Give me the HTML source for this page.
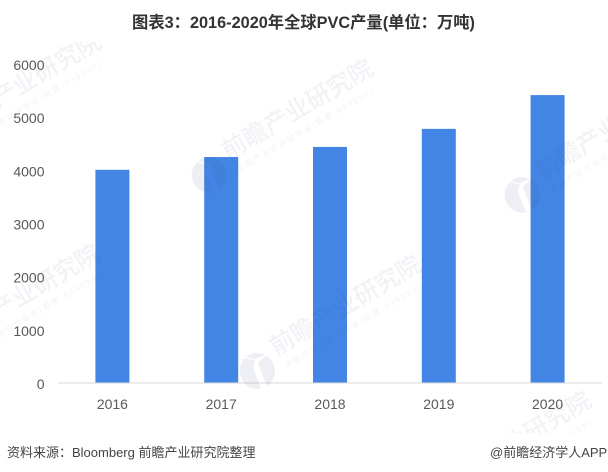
<!DOCTYPE html>
<html>
<head>
<meta charset="utf-8">
<title>2016-2020年全球PVC产量</title>
<style>
html,body{margin:0;padding:0;background:#fff;}
body{width:608px;height:472px;overflow:hidden;}
svg{display:block;}
text{font-family:"Liberation Sans","Noto Sans CJK SC",sans-serif;}
</style>
</head>
<body>
<svg id="chart" width="608" height="472" viewBox="0 0 608 472" xmlns="http://www.w3.org/2000/svg">
<defs><clipPath id="plot-clip"><rect x="0" y="42" width="608" height="391"></rect></clipPath></defs>
<text x="303.5" y="28" text-anchor="middle" font-size="16.3" font-weight="700" fill="#333">图表3：2016-2020年全球PVC产量(单位：万吨)</text>
<g id="ticks"></g>
<g id="bars"></g>
<line x1="58" y1="383" x2="602" y2="383" stroke="#d9d9d9" stroke-width="1"></line>
<g id="cats"></g>
<g id="marks" clip-path="url(#plot-clip)"></g>
<text x="7" y="457" font-size="13" fill="#444">资料来源：Bloomberg 前瞻产业研究院整理</text>
<text x="490" y="457" font-size="13" fill="#444">@前瞻经济学人APP</text>
</svg>
<script>
const categories = ['2016', '2017', '2018', '2019', '2020'];
const production = [4010, 4250, 4440, 4780, 5415];
const tickValues = [0, 1000, 2000, 3000, 4000, 5000, 6000];

const NS = 'http://www.w3.org/2000/svg';
const plot = { left: 58, right: 602, top: 64, bottom: 383, max: 6000, barWidth: 34 };
function yScale(v) { return plot.bottom - (v / plot.max) * (plot.bottom - plot.top); }
function xCenter(i) { return plot.left + (i + 0.5) * (plot.right - plot.left) / categories.length; }
function make(tag, attrs, text) {
  const el = document.createElementNS(NS, tag);
  for (const k in attrs) el.setAttribute(k, attrs[k]);
  if (text !== undefined) el.textContent = text;
  return el;
}
const ticksG = document.getElementById('ticks');
tickValues.forEach(function (v) {
  const t = make('text', { x: 44.5, y: yScale(v) + 6, 'text-anchor': 'end', 'font-size': 14, fill: '#595959' }, String(v));
  
  
  ticksG.appendChild(t);
});
const barsG = document.getElementById('bars');
const catsG = document.getElementById('cats');
production.forEach(function (v, i) {
  const r = make('rect', { x: xCenter(i) - plot.barWidth / 2, y: yScale(v), width: plot.barWidth, height: plot.bottom - yScale(v), fill: '#4285e4' });
  
  
  barsG.appendChild(r);
  const t = make('text', { x: xCenter(i), y: 409, 'text-anchor': 'middle', 'font-size': 14, fill: '#595959' }, categories[i]);
  
  
  catsG.appendChild(t);
});

// Decorative watermarks: origin of the main text baseline, logo flag, main text, sub text, sub text x offset
const fullMain = '前瞻产业研究院';
const fullSub = '中国产业咨询领导者(股票:839599)';
const marksG = document.getElementById('marks');
[[-44, 133, false, fullMain, fullSub, 3], [228, 160, true, fullMain, fullSub, 3], [541, 180, true, fullMain, fullSub, 3], [-45, 345, false, fullMain, fullSub, 3], [276, 356, true, fullMain, fullSub, 3], [509, 455, false, '业研究院', '(股票:839599)', 17]].forEach(function (m) {
  const g = make('g', { transform: 'translate(' + m[0] + ' ' + m[1] + ') rotate(-30.6)', fill: '#3c5082', 'fill-opacity': '0.075' });
  
  
  g.appendChild(make('text', { x: 0, y: 0, 'font-size': 24.4, 'font-weight': 500 }, m[3]));
  g.appendChild(make('text', { x: m[5], y: 16, 'font-size': 7.5, 'letter-spacing': 2.2 }, m[4]));
  marksG.appendChild(g);
  if (m[2]) {
    const c = make('path', { d: 'M-12,-13 A18,18 0 0 0 4,17.5 L-4,-3 L-2,-10 Z M-11,-14.5 A18,18 0 0 1 8,-16 L-3,-11.5 Z M1,-8 L9,-15.5 A18,18 0 0 1 10,15 Z', transform: 'translate(' + (m[0] - 19) + ' ' + (m[1] + 15) + ')', fill: '#3c5082', 'fill-opacity': '0.09' });
    
    
    marksG.appendChild(c);
  }
});
</script>
</body>
</html>
